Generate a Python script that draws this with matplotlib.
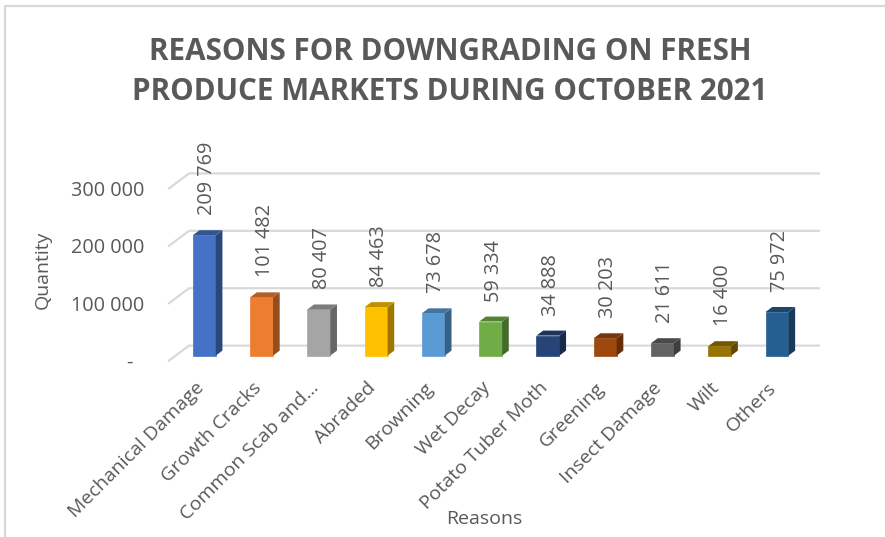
import matplotlib.pyplot as plt
from matplotlib.patches import Polygon, Rectangle
from matplotlib.colors import to_rgb
from matplotlib.transforms import ScaledTranslation

plt.rcParams['font.family'] = ['Open Sans', 'DejaVu Sans']

reasons = ['Mechanical Damage', 'Growth Cracks', 'Common Scab and...', 'Abraded', 'Browning', 'Wet Decay',
           'Potato Tuber Moth', 'Greening', 'Insect Damage', 'Wilt', 'Others']
quantity = [209769, 101482, 80407, 84463, 73678, 59334, 34888, 30203, 21611, 16400, 75972]
bar_colors = ['#4472C4', '#ED7D31', '#A5A5A5', '#FFC000', '#5B9BD5', '#70AD47',
              '#264478', '#9E480E', '#636363', '#997300', '#255E91']
y_ticks = [0, 100000, 200000, 300000]
y_tick_labels = ['-  ', '100 000', '200 000', '300 000']

W, H = 885, 537
TEXT = '#595959'
GRID = '#D9D9D9'


def shade(color, f):
    return tuple(c * f for c in to_rgb(color))


def main():
    fig = plt.figure(figsize=(W / 100, H / 100), dpi=100)
    ax = fig.add_axes([169 / W, 1 - 360.6 / H, 630 / W, 172.2 / H])
    ax.set_xlim(-0.5, 10.5)
    ax.set_ylim(0, 300000)
    for s in ax.spines.values():
        s.set_visible(False)

    # depth of the fake 3D box, in data units
    dx = 20 / 57.3
    dy = 26100

    for t in y_ticks:
        ax.plot([-0.5, -0.5 + dx, 10.5 + dx], [t, t + dy, t + dy], color=GRID, lw=1.6,
                clip_on=False, zorder=1, solid_joinstyle='miter')

    w = 0.4
    for i, v in enumerate(quantity):
        c = bar_colors[i]
        x0 = i - w / 2 + dx / 3
        x1 = x0 + w
        b = dy / 3
        d_x = dx / 3
        d_y = dy / 3
        ax.add_patch(Rectangle((x0, b), w, v, facecolor=c, edgecolor=c, lw=0.5, clip_on=False, zorder=3))
        ax.add_patch(Polygon([(x1, b), (x1 + d_x, b + d_y), (x1 + d_x, b + v + d_y), (x1, b + v)],
                             facecolor=shade(c, 0.62), edgecolor='none', clip_on=False, zorder=3))
        ax.add_patch(Polygon([(x0, b + v), (x1, b + v), (x1 + d_x, b + v + d_y), (x0 + d_x, b + v + d_y)],
                             facecolor=shade(c, 0.75), edgecolor='none', clip_on=False, zorder=3))
        ax.annotate(f'{v:,}'.replace(',', ' '), (x0 + w / 2, b + v), xytext=(3, 20), textcoords='offset pixels',
                    rotation=90, ha='center', va='bottom', fontsize=14.3, color=TEXT, zorder=4)

    ax.set_yticks(y_ticks, y_tick_labels, fontsize=14.3, color=TEXT)
    ax.set_xticks(range(len(reasons)))
    ax.set_xticklabels(reasons, rotation=45, ha='right', rotation_mode='anchor', fontsize=14, color=TEXT)
    ax.tick_params(axis='both', length=0)
    ax.tick_params(axis='y', pad=18)
    ax.tick_params(axis='x', pad=13)
    nudge = ScaledTranslation(-0.03, 0, fig.dpi_scale_trans)
    for label in ax.get_xticklabels():
        label.set_transform(label.get_transform() + nudge)

    fig.text(450 / W, 1 - 72 / H, 'REASONS FOR DOWNGRADING ON FRESH\nPRODUCE MARKETS DURING OCTOBER 2021',
             ha='center', va='center', fontsize=21.3, fontweight='bold', color=TEXT, linespacing=1.4)
    fig.text(43 / W, 1 - 270 / H, 'Quantity', rotation=90, ha='center', va='center', fontsize=14, color=TEXT)
    fig.text(484 / W, 1 - 519 / H, 'Reasons', ha='center', va='center', fontsize=14, color=TEXT)

    # chart frame
    fig.add_artist(plt.Line2D([5 / W, 5 / W, 1], [0, 1 - 6 / H, 1 - 6 / H], color=GRID, lw=1.6))

    fig.savefig('out.png', dpi=100)


if __name__ == '__main__':
    main()
